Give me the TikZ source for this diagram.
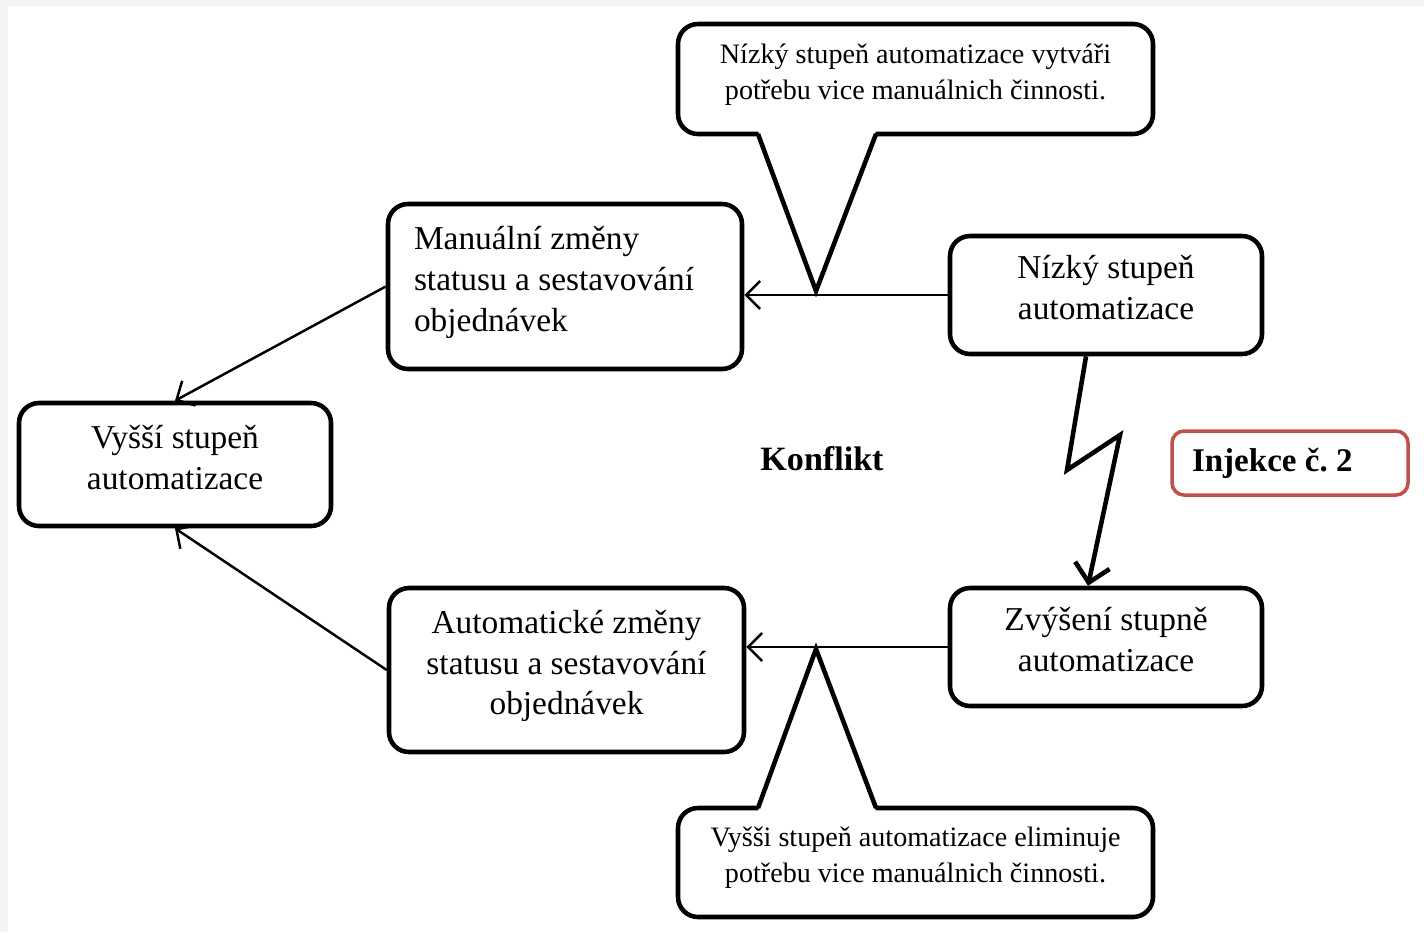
\documentclass[tikz,border=0pt]{standalone}
\usepackage{fontspec}
\setmainfont{Liberation Serif}
\usetikzlibrary{arrows.meta}
\definecolor{injred}{RGB}{192,80,77}
\definecolor{framegray}{RGB}{244,244,244}

\begin{document}
\frenchspacing
\begin{tikzpicture}[
		box/.style={draw,line width=1.3pt,rounded corners=0.2cm,fill=white,align=center,inner sep=0pt,text depth=0.15cm,font=\fontsize{9.5}{11.6}\selectfont},
		bubble/.style={box,font=\fontsize{8}{10.2}\selectfont},
		link/.style={line width=0.7pt,-{Straight Barb[length=4pt,width=8pt]}},
		pointer/.style={line width=1.3pt,line join=miter},
	]
		\fill[framegray] (0,0) rectangle (14.24,-9.32);
		\fill[white] (0.08,-0.06) rectangle (14.24,-9.32);
		\useasboundingbox (0,0) rectangle (14.24,-9.32);

		\node[box,minimum width=3.54cm,minimum height=1.65cm,text width=3.02cm,text depth=0.97cm,align=flush left] (manual) at (5.65,-2.865) {Manuální změny\\statusu a sestavování\\objednávek};
		\node[box,minimum width=3.12cm,minimum height=1.18cm] (nizky) at (11.06,-2.95) {Nízký stupeň\\automatizace};
		\node[box,minimum width=3.12cm,minimum height=1.23cm] (vyssi) at (1.75,-4.645) {Vyšší stupeň\\automatizace};
		\node[box,minimum width=3.12cm,minimum height=1.18cm] (zvyseni) at (11.06,-6.47) {Zvýšení stupně\\automatizace};
		\node[box,minimum width=3.55cm,minimum height=1.64cm] (auto) at (5.665,-6.70) {Automatické změny\\statusu a sestavování\\objednávek};

		\node[font=\fontsize{9.7}{12}\selectfont\bfseries] (konflikt) at (8.22,-4.59) {Konflikt};
		\node[draw=injred,line width=1pt,rounded corners=0.12cm,minimum width=2.36cm,minimum height=0.64cm,text width=1.96cm,inner sep=0pt,align=flush left,font=\fontsize{9.4}{11}\selectfont\bfseries] (injekce) at (12.90,-4.63) {Injekce č. 2};

		\draw[link] (nizky.west) -- (manual.east |- nizky.west);
		\draw[link] (manual.west) -- (vyssi.north);
		\draw[link] (zvyseni.west) -- (auto.east |- zvyseni.west);
		\draw[link] (auto.west) -- (vyssi.south);

		\coordinate (bolta) at (10.67,-4.70);
		\coordinate (boltb) at (11.20,-4.35);
		\draw[line width=1.3pt,line join=miter,-{Straight Barb[length=5pt,width=10pt]}] ([xshift=-0.2cm]nizky.south) -- (bolta) -- (boltb) -- ([xshift=-0.18cm]zvyseni.north);

		\node[bubble,minimum width=4.75cm,minimum height=1.10cm] (calltop) at (9.155,-0.79) {Nízký stupeň automatizace vytváři\\potřebu vice manuálnich činnosti.};
		\node[bubble,minimum width=4.75cm,minimum height=1.09cm] (callbot) at (9.155,-8.625) {Vyšši stupeň automatizace eliminuje\\potřebu vice manuálnich činnosti.};

		\coordinate (tiptop) at (8.16,-2.91);
		\coordinate (tipbot) at (8.16,-6.49);
		\fill[white] ([xshift=-1.575cm,yshift=1.5pt]calltop.south) -- (tiptop) -- ([xshift=-0.395cm,yshift=1.5pt]calltop.south) -- cycle;
		\fill[white] ([xshift=-1.575cm,yshift=-1.5pt]callbot.north) -- (tipbot) -- ([xshift=-0.395cm,yshift=-1.5pt]callbot.north) -- cycle;
		\draw[pointer] ([xshift=-1.575cm,yshift=0.65pt]calltop.south) -- (tiptop) -- ([xshift=-0.395cm,yshift=0.65pt]calltop.south);
		\draw[pointer] ([xshift=-1.575cm,yshift=-0.65pt]callbot.north) -- (tipbot) -- ([xshift=-0.395cm,yshift=-0.65pt]callbot.north);
	\end{tikzpicture}
\end{document}
